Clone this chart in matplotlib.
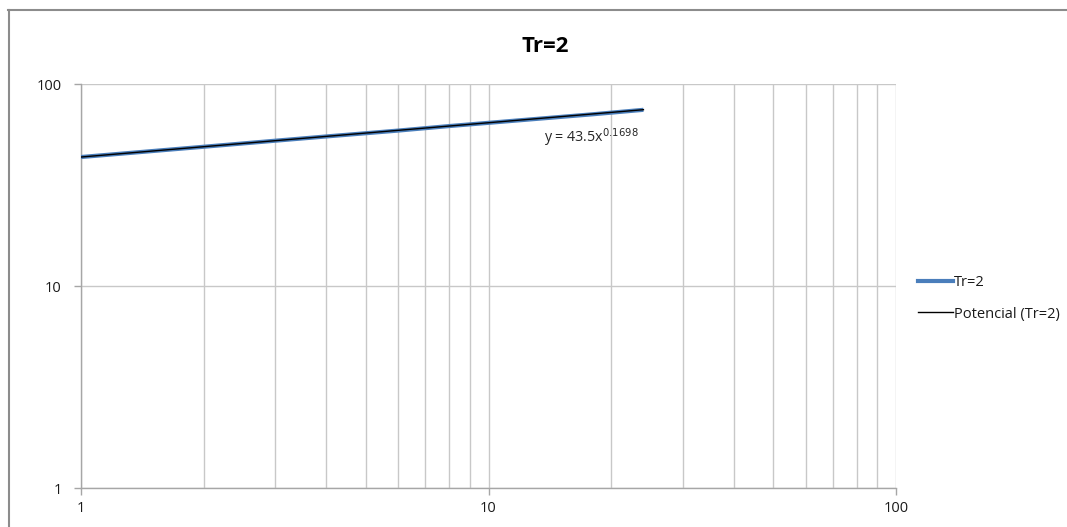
import matplotlib
matplotlib.use("Agg")
import matplotlib.pyplot as plt
from matplotlib.lines import Line2D
from matplotlib.ticker import LogLocator, FixedLocator, NullFormatter, FixedFormatter
import numpy as np

# Duration (x) and intensity (y) for return period Tr=2
durations = [1, 2, 3, 4, 6, 8, 12, 18, 24]
intensity = [43.5, 48.9, 52.4, 55.0, 58.8, 61.9, 66.2, 70.8, 74.5]

# Power-law trend coefficients shown on the chart
coef_a = 43.5
coef_b = 0.1698

x_ticks = [1, 10, 100]
y_ticks = [1, 10, 100]
x_tick_labels = ["1", "10", "100"]
y_tick_labels = ["1", "10", "100"]

plt.rcParams["font.family"] = ["Open Sans", "DejaVu Sans"]

W, H = 1067, 527
fig = plt.figure(figsize=(W / 100, H / 100), dpi=100)
ax = fig.add_axes([81 / W, 1 - 488 / H, (896 - 81) / W, (488 - 84) / H])

grid_c = "#c8c8c8"
axis_c = "#a6a6a6"

ax.set_xscale("log")
ax.set_yscale("log")
ax.set_xlim(1, 100)
ax.set_ylim(1, 100)

# Series line
ax.plot(durations, intensity, color="#4a7ebb", lw=3.0, solid_capstyle="butt", zorder=3,
        label="Tr=2")

# Power trendline through the same span
xt = np.geomspace(durations[0], durations[-1], 50)
ax.plot(xt, coef_a * xt ** coef_b, color="black", lw=1.0, zorder=4,
        label="Potencial (Tr=2)")

ax.text(13.7, 54, "y = 43.5x$^{0.1698}$", fontsize=10.3, color="#262626",
        va="center", ha="left")

# Gridlines: all minor/major verticals, horizontal at majors
ax.xaxis.set_major_locator(FixedLocator(x_ticks))
ax.xaxis.set_major_formatter(FixedFormatter(x_tick_labels))
ax.xaxis.set_minor_locator(LogLocator(base=10, subs=np.arange(2, 10)))
ax.xaxis.set_minor_formatter(NullFormatter())
ax.yaxis.set_major_locator(FixedLocator(y_ticks))
ax.yaxis.set_major_formatter(FixedFormatter(y_tick_labels))
ax.yaxis.set_minor_locator(FixedLocator([]))

ax.grid(True, which="major", axis="both", color=grid_c, lw=1.0)
ax.grid(True, which="minor", axis="x", color=grid_c, lw=1.0)
ax.set_axisbelow(True)

for s in ["top", "right"]:
    ax.spines[s].set_visible(False)
for s in ["left", "bottom"]:
    ax.spines[s].set_color(axis_c)
    ax.spines[s].set_linewidth(1.0)

ax.tick_params(axis="both", which="major", length=5, width=1, color=axis_c,
               labelsize=10.5, labelcolor="#1a1a1a")
ax.tick_params(axis="x", which="major", direction="out", pad=4)
ax.tick_params(axis="y", which="major", direction="out", pad=9)
ax.tick_params(axis="x", which="minor", length=0)

fig.text(545 / W, 1 - 46 / H, "Tr=2", fontsize=16, fontweight="bold",
         ha="center", va="center", color="black")

leg = fig.legend(handles=[
    Line2D([], [], color="#4a7ebb", lw=3.0),
    Line2D([], [], color="black", lw=1.0)],
    labels=["Tr=2", "Potencial (Tr=2)"],
    loc="upper left", bbox_to_anchor=(912 / W, 1 - 269 / H),
    frameon=False, fontsize=10.5, handlelength=2.4, handletextpad=0.1,
    labelspacing=1.15, borderaxespad=0)
for t in leg.get_texts():
    t.set_color("#1a1a1a")

# Outer chart border (top and left edges)
fig.add_artist(Line2D([8 / W, 1], [1 - 9.5 / H, 1 - 9.5 / H], color="#8c8c8c",
                      lw=1.5, transform=fig.transFigure))
fig.add_artist(Line2D([8.5 / W, 8.5 / W], [0, 1 - 9.5 / H], color="#8c8c8c",
                      lw=1.5, transform=fig.transFigure))

fig.savefig("out.png", dpi=100)
